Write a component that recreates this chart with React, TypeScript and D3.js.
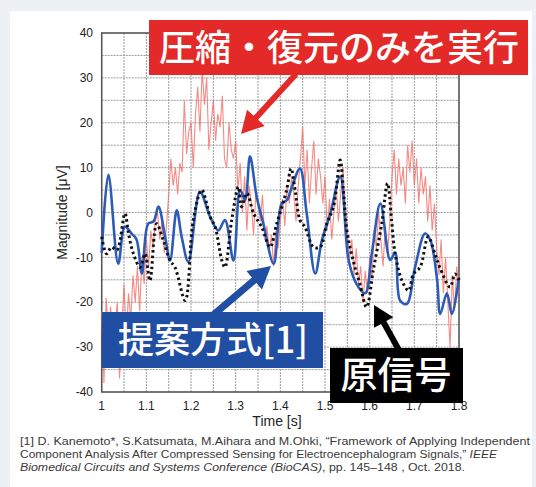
import * as d3 from 'd3'

// time axis ticks and grid
const xTicks = [1, 1.1, 1.2, 1.3, 1.4, 1.5, 1.6, 1.7, 1.8]
const yTicks = [40, 30, 20, 10, 0, -10, -20, -30, -40]

// compressed + reconstructed only (red), sampled every 5 ms from t = 1.0 s
const redStart = 1.0
const redStep = 0.005
const redV = [
  -22, -38, -19, -27, -21, -32, -25, -20, -37, -26,
  -16, -28, -18, -24, -14, -20, -12, -22, -10, -16,
  -6, -12, -4, -8, -2, 0, -6, -2, -9, -3,
  4, 12, 6, 10, 4, 11, 9, 25, 13, 18,
  20, 10, 22, 28, 18, 32, 24, 30, 14, 20,
  25, 16, 22, 19, 26, 12, 10, 20, 14, 12,
  16, 5, 11, 0, 8, -4, 6, 2, -5, 4,
  3, -2, 4, -6, -3, -9, -5, -12, -4, -8,
  -2, 3, -3, 6, 2, 8, 4, -2, 6, 12,
  19, 6, 14, 2, 10, 16, 4, 12, 8, 2,
  8, -4, 3, -6, 0, 6, -2, 4, 10, 2,
  -4, -10, -6, -14, -8, -16, -12, -20, -13, -18,
  -10, -15, -4, -8, 0, -6, -12, -3, -9, -2,
  8, 14, 4, 12, 6, 10, 2, 15, 9, 16,
  6, 12, 2, 10, 4, 8, -2, 6, -4, 2,
  -8, -14, -6, -18, -10, -20, -30, -14, -22, -12, -18,
]

// proposed method (blue)
const blueT = [
  1.0, 1.015, 1.037, 1.052, 1.067, 1.078, 1.09, 1.104, 1.116, 1.127,
  1.142, 1.153, 1.168, 1.179, 1.194, 1.22, 1.243, 1.261, 1.276, 1.295,
  1.31, 1.321, 1.332, 1.347, 1.362, 1.385, 1.403, 1.415, 1.426, 1.444,
  1.459, 1.478, 1.493, 1.512, 1.534, 1.553, 1.571, 1.59, 1.605, 1.624,
  1.646, 1.657, 1.668, 1.683, 1.702, 1.724, 1.736, 1.751, 1.758, 1.773,
  1.784, 1.8,
]
const blueV = [
  -9, 8.4, -11.4, -3.2, -4.7, -6, -13.6, -2.5, -2, 1.3,
  -5.4, -10.7, 0.5, -5.4, -11, 4.6, -1, -4, -1.7, -10.7,
  5, 2.8, 12.5, 3.5, -2.5, -11.4, 2, 2.8, 5.7, 9.8,
  -0.2, -13.6, -6.2, -0.2, 8, -10.7, -16, -18, -9, 2,
  -10.6, -9, -19.6, -20.4, -12, -4.7, -6.2, -15, -22.6, -18,
  -22.6, -14.5,
]

// original signal (black dotted)
const origT = [
  1.0, 1.011, 1.022, 1.034, 1.052, 1.06, 1.071, 1.086, 1.097, 1.108,
  1.123, 1.138, 1.153, 1.164, 1.187, 1.205, 1.224, 1.243, 1.254, 1.269,
  1.276, 1.291, 1.306, 1.313, 1.325, 1.34, 1.358, 1.377, 1.392, 1.414,
  1.424, 1.433, 1.444, 1.455, 1.474, 1.489, 1.504, 1.519, 1.534, 1.541,
  1.549, 1.563, 1.578, 1.593, 1.608, 1.627, 1.64, 1.649, 1.657, 1.672,
  1.687, 1.698, 1.713, 1.731, 1.746, 1.757, 1.78, 1.791, 1.8,
]
const origV = [
  -5.4, -9.2, -7.7, -8.4, -0.2, -4.7, -9.2, -12.2, -9.2, -15.2,
  -2.5, -6.2, -10.7, -12.2, -19.6, -1.7, 5, -1, -3.2, -10.7,
  -12.2, -1.7, 5.7, 1.3, 4.3, -0.2, -3.2, -7.7, -2.5, 5,
  9.8, 5, -1.7, -3.2, -7.7, -7.7, -2.5, 1.3, 11.7, 5,
  -4, -10.7, -15.9, -21.1, -12.9, -2.5, 6.5, -1.7, -9.2, -15.1,
  -17.4, -13.7, -12.2, -5.4, -9.2, -12.2, -16.6, -13.7, -15.1,
]

const W = 536
const H = 487

function arrow(x1: number, y1: number, x2: number, y2: number, sw: number, hl: number, hw: number) {
  const len = Math.hypot(x2 - x1, y2 - y1)
  const ux = (x2 - x1) / len
  const uy = (y2 - y1) / len
  const nx = -uy
  const ny = ux
  const bx = x2 - ux * hl
  const by = y2 - uy * hl
  const p = [
    [x1 + (nx * sw) / 2, y1 + (ny * sw) / 2],
    [bx + (nx * sw) / 2, by + (ny * sw) / 2],
    [bx + (nx * hw) / 2, by + (ny * hw) / 2],
    [x2, y2],
    [bx - (nx * hw) / 2, by - (ny * hw) / 2],
    [bx - (nx * sw) / 2, by - (ny * sw) / 2],
    [x1 - (nx * sw) / 2, y1 - (ny * sw) / 2],
  ]
  return p.map(d => d.join(',')).join(' ')
}

export default function App() {
  const x = d3.scaleLinear().domain([1, 1.8]).range([101.7, 459])
  const y = d3.scaleLinear().domain([-40, 40]).range([392, 33])

  const line = d3
    .line<[number, number]>()
    .x(d => x(d[0]))
    .y(d => y(d[1]))

  const redPts = redV.map((v, i) => [redStart + i * redStep, v] as [number, number])
  const bluePts = blueT.map((t, i) => [t, blueV[i]] as [number, number])
  const origPts = origT.map((t, i) => [t, origV[i]] as [number, number])

  const xGrid = d3.range(0, 17).map(i => 1 + i * 0.05)
  const yGrid = d3.range(0, 17).map(i => -40 + i * 5)

  const font = 'Liberation Sans, Arial, sans-serif'
  const jp = '"Noto Sans CJK JP", sans-serif'

  return (
    <svg
      width={W}
      height={H}
      style={{ position: 'absolute', left: 0, top: 0, display: 'block' }}
    >
      <rect width={W} height={H} fill="#edf1f5" />
      <rect x={10} y={11} width={522} height={H - 11} fill="#ffffff" />

      {/* grid */}
      <g stroke="#9a9a9a" strokeWidth={1} strokeDasharray="2,1">
        {xGrid.map((t, i) => (
          <line key={'gx' + i} x1={x(t)} x2={x(t)} y1={y(40)} y2={y(-40)} />
        ))}
        {yGrid.map((v, i) => (
          <line key={'gy' + i} x1={x(1)} x2={x(1.8)} y1={y(v)} y2={y(v)} />
        ))}
      </g>
      <rect
        x={x(1)}
        y={y(40)}
        width={x(1.8) - x(1)}
        height={y(-40) - y(40)}
        fill="none"
        stroke="#555"
        strokeWidth={1.5}
      />

      {/* series */}
      <path d={line(redPts) ?? ''} fill="none" stroke="#f26d66" strokeOpacity={0.8} strokeWidth={1.1} />
      <path
        d={line.curve(d3.curveCatmullRom.alpha(0.5))(bluePts) ?? ''}
        fill="none"
        stroke="#2c5cb8"
        strokeWidth={2.6}
        strokeLinejoin="round"
      />
      <path
        d={line.curve(d3.curveCatmullRom.alpha(0.5))(origPts) ?? ''}
        fill="none"
        stroke="#111"
        strokeWidth={3}
        strokeDasharray="2.5,3"
      />

      {/* axes labels */}
      <g fontFamily={font} fontSize={12} fill="#222">
        {yTicks.map(v => (
          <text key={'yt' + v} x={93} y={y(v)} dy="0.35em" textAnchor="end">
            {v}
          </text>
        ))}
        {xTicks.map(t => (
          <text key={'xt' + t} x={x(t)} y={406} dy="0.35em" textAnchor="middle">
            {t}
          </text>
        ))}
      </g>
      <text x={277} y={421} dy="0.35em" textAnchor="middle" fontFamily={font} fontSize={14} fill="#222">
        Time [s]
      </text>
      <text
        transform={`translate(62,${y(0)}) rotate(-90)`}
        dy="0.35em"
        textAnchor="middle"
        fontFamily={font}
        fontSize={14}
        fill="#222"
      >
        Magnitude [μV]
      </text>

      {/* annotations */}
      <polygon points={arrow(296, 74, 241, 134, 6, 22, 24)} fill="#e42a28" />
      <rect x={149} y={20} width={379} height={55} fill="#e42a28" />
      <text x={339} y={48} dy="0.35em" textAnchor="middle" fontFamily={jp} fontSize={36} fontWeight={500} fill="#fff">
        圧縮・復元のみを実行
      </text>

      <polygon points={arrow(212, 316, 271, 266, 7, 22, 24)} fill="#1f4ea3" />
      <rect x={102} y={312} width={221} height={56} fill="#1f4ea3" />
      <text x={213} y={340} dy="0.35em" textAnchor="middle" fontFamily={jp} fontSize={36} fontWeight={500} fill="#fff">
        提案方式[1]
      </text>

      <polygon points={arrow(400, 352, 374, 305, 6, 20, 22)} fill="#000" />
      <rect x={330} y={348} width={133} height={55} fill="#000" />
      <text x={396} y={376} dy="0.35em" textAnchor="middle" fontFamily={jp} fontSize={37} fontWeight={500} fill="#fff">
        原信号
      </text>

      {/* reference */}
      <g fontFamily={font} fontSize={10.5} fill="#3a3a3a">
        <text x={20} y={441} dy="0.35em" textLength={510} lengthAdjust="spacingAndGlyphs">
          [1] D. Kanemoto*, S.Katsumata, M.Aihara and M.Ohki, “Framework of Applying Independent
        </text>
        <text x={20} y={454} dy="0.35em" textLength={477} lengthAdjust="spacingAndGlyphs">
          Component Analysis After Compressed Sensing for Electroencephalogram Signals,”{' '}
          <tspan fontStyle="italic">IEEE</tspan>
        </text>
        <text x={20} y={467} dy="0.35em" textLength={445} lengthAdjust="spacingAndGlyphs">
          <tspan fontStyle="italic">Biomedical Circuits and Systems Conference (BioCAS)</tspan>, pp. 145–148 , Oct. 2018.
        </text>
      </g>
    </svg>
  )
}
